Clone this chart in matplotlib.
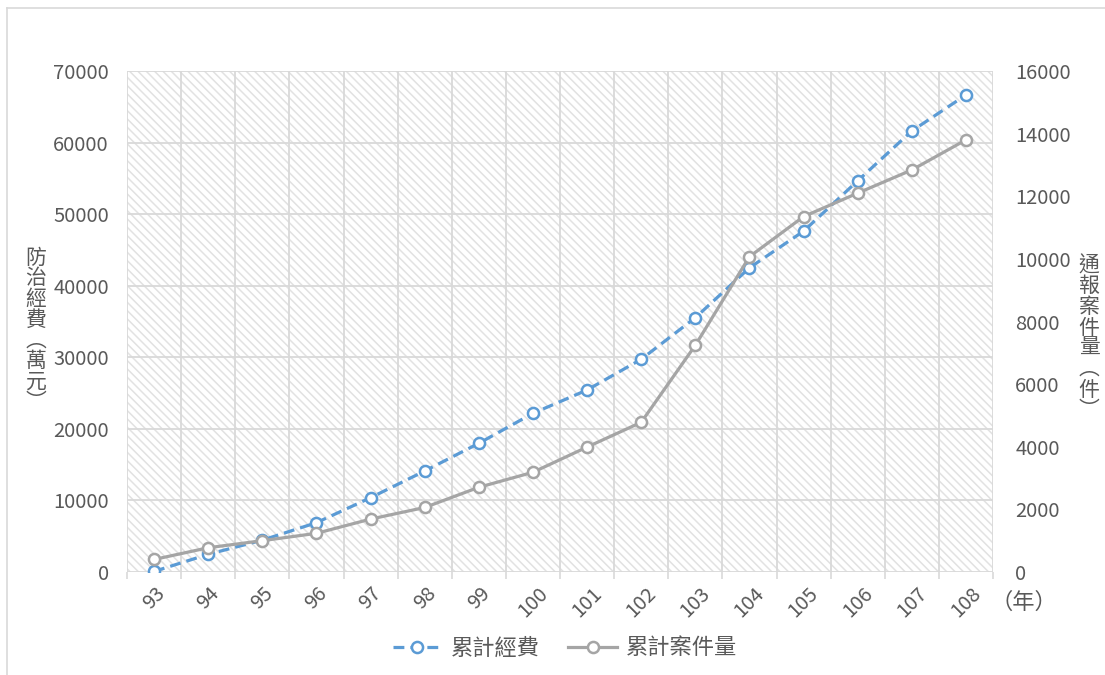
import matplotlib
matplotlib.use("Agg")
import matplotlib.pyplot as plt
from matplotlib.lines import Line2D
from matplotlib.ticker import MultipleLocator, FixedLocator

plt.rcParams["font.family"] = ["Noto Sans CJK TC", "DejaVu Sans"]
plt.rcParams["hatch.linewidth"] = 1.1

years = ["93", "94", "95", "96", "97", "98", "99", "100",
         "101", "102", "103", "104", "105", "106", "107", "108"]
# 累計經費（萬元）
funding = [80, 2470, 4450, 6890, 10380, 14110, 17980, 22170,
           25430, 29720, 35530, 42500, 47620, 54660, 61620, 66650]
# 累計案件量（件）
cases = [400, 775, 1000, 1235, 1690, 2060, 2705, 3185,
         3990, 4780, 7240, 10070, 11350, 12100, 12840, 13800]

TXT = "#595959"
GRID = "#d9d9d9"
BLUE = "#5b9bd5"
GRAY = "#a5a5a5"

fig = plt.figure(figsize=(11.05, 6.75), dpi=100)
ax = fig.add_axes([127 / 1105, 1 - 572 / 675, 866 / 1105, 501 / 675])
ax2 = ax.twinx()

# hatched plot background
ax.patch.set_facecolor("white")
ax.patch.set_edgecolor("#e2e2e2")
ax.patch.set_hatch("\\\\\\\\")
ax.patch.set_linewidth(0)

x = list(range(len(years)))
ln1, = ax.plot(x, funding, color=BLUE, lw=2.3, dashes=(3.4, 1.9),
               marker="o", ms=8, mfc="white", mec=BLUE, mew=1.8,
               label="累計經費", zorder=3)
ln2, = ax2.plot(x, cases, color=GRAY, lw=2.3,
                marker="o", ms=8, mfc="white", mec=GRAY, mew=1.8,
                label="累計案件量", zorder=3)

ax.set_xlim(-0.5, len(years) - 0.5)
ax.set_ylim(0, 70000)
ax2.set_ylim(0, 16000)
ax.yaxis.set_major_locator(MultipleLocator(10000))
ax2.yaxis.set_major_locator(MultipleLocator(2000))

ax.set_xticks(x)
ax.set_xticklabels(years, rotation=45, ha="center", va="top")
ax.xaxis.set_minor_locator(FixedLocator([i - 0.5 for i in range(len(years) + 1)]))
ax.tick_params(axis="x", which="major", length=0, pad=8, labelsize=14.5, labelcolor=TXT)
ax.tick_params(axis="x", which="minor", length=5, width=1.2, color=GRID)
ax.tick_params(axis="y", length=0, pad=13, labelsize=14.5, labelcolor=TXT)
ax2.tick_params(axis="y", length=0, pad=16, labelsize=14.5, labelcolor=TXT)

ax.grid(True, which="minor", axis="x", color=GRID, lw=1.3)
ax.grid(True, which="major", axis="y", color=GRID, lw=1.3)
ax.set_axisbelow(True)
for a in (ax, ax2):
    for s in a.spines.values():
        s.set_visible(False)

# stacked vertical axis titles
left_title = "防治經費︵萬元︶"
right_title = "通報案件量︵件︶"
fig.text(36 / 1105, 1 - 330 / 675, "\n".join(left_title), ha="center", va="center",
         fontsize=15, color=TXT, linespacing=0.92)
fig.text(1089 / 1105, 1 - 338 / 675, "\n".join(right_title), ha="center", va="center",
         fontsize=15, color=TXT, linespacing=0.92)
fig.text(1024 / 1105, 1 - 602 / 675, "（年）", ha="center", va="center",
         fontsize=16, color=TXT)

fig.legend(handles=[ln1, ln2], loc="center", bbox_to_anchor=(565 / 1105, 1 - 648 / 675),
           ncol=2, frameon=False, fontsize=16, handlelength=2.2, handletextpad=0.4,
           columnspacing=1.3, labelcolor=TXT)

# chart area border
fig.add_artist(Line2D([7 / 1105, 7 / 1105], [0, 1 - 8 / 675], transform=fig.transFigure,
                      color=GRID, lw=1.2))
fig.add_artist(Line2D([7 / 1105, 1], [1 - 8 / 675, 1 - 8 / 675], transform=fig.transFigure,
                      color=GRID, lw=1.2))

fig.savefig("out.png", dpi=100)
